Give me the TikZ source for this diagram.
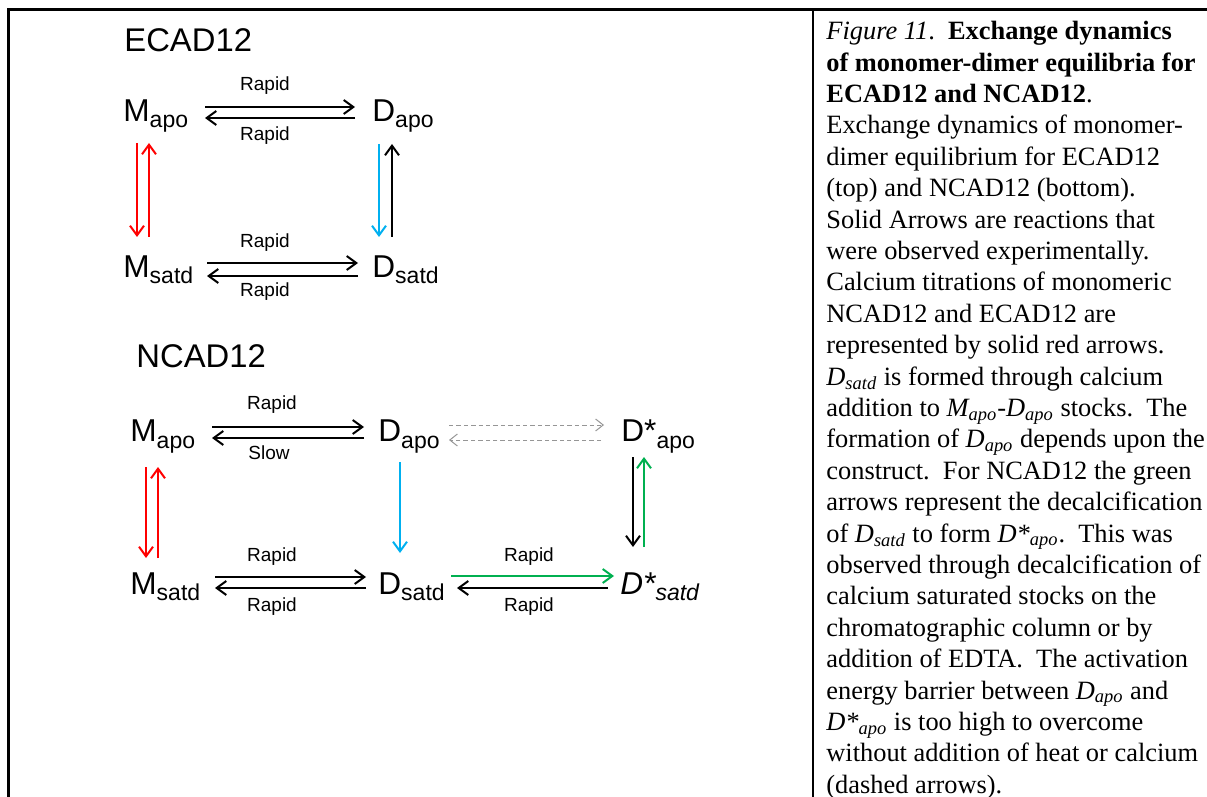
\documentclass[tikz,border=0pt]{standalone}
\usepackage{fontspec}
\setmainfont{Liberation Serif}
\newfontfamily\dsf{Liberation Sans}
\usetikzlibrary{arrows.meta}
\newcommand\mysub[1]{\raisebox{-3pt}{\fontsize{11.5}{13}\selectfont #1}}
\definecolor{cblue}{RGB}{0,176,240}
\definecolor{cgreen}{RGB}{0,176,80}
\definecolor{cred}{RGB}{255,0,0}
\definecolor{cgray}{RGB}{150,150,150}
\begin{document}
\begin{tikzpicture}[x=0.5pt,y=-0.5pt,
  lbl/.style={font=\dsf\fontsize{9.5}{11}\selectfont, inner sep=0pt, anchor=base},
  spc/.style={font=\dsf\fontsize{15.8}{18}\selectfont, inner sep=0pt, anchor=base west},
  ttl/.style={font=\dsf\fontsize{16.4}{19}\selectfont, inner sep=0pt, anchor=base west},
  arr/.style={line width=1pt, -{Straight Barb[length=4.8pt,width=7pt]}},
  darr/.style={line width=0.5pt, cgray, dash pattern=on 2.2pt off 1.5pt, -{Straight Barb[length=3.8pt,width=6pt]}},
  frame/.style={line width=1.5pt}]
\useasboundingbox (0,0) rectangle (1207,797);
% frame
\draw[frame] (8,797) -- (8,10) -- (1207,10);
\draw[line width=1.3pt] (813,10) -- (813,797);

% ---------- ECAD12 ----------
\node[ttl] (tE) at (124,52) {ECAD12};
\node[spc] (eMa) at (123,122) {M\mysub{apo}};
\node[spc] (eDa) at (372,122) {D\mysub{apo}};
\node[spc] (eMs) at (123,278) {M\mysub{satd}};
\node[spc] (eDs) at (372,278) {D\mysub{satd}};

\draw[arr] ([shift={(82,-15)}]eMa.base west) -- ([shift={(-17,-15)}]eDa.base west);
\draw[arr] ([shift={(-17,-4)}]eDa.base west) -- ([shift={(82,-4)}]eMa.base west);
\draw[arr] ([shift={(84,-15)}]eMs.base west) -- ([shift={(-14,-15)}]eDs.base west);
\draw[arr] ([shift={(-14,-2)}]eDs.base west) -- ([shift={(84,-2)}]eMs.base west);

\draw[arr,cred] ([shift={(14,21)}]eMa.base west) -- ([shift={(14,-41)}]eMs.base west);
\draw[arr,cred] ([shift={(26,-41)}]eMs.base west) -- ([shift={(26,21)}]eMa.base west);
\draw[arr,cblue] ([shift={(7,22)}]eDa.base west) -- ([shift={(7,-41)}]eDs.base west);
\draw[arr] ([shift={(20,-41)}]eDs.base west) -- ([shift={(20,22)}]eDa.base west);

\node[lbl] (l1) at (265,91) {Rapid};
\node[lbl] (l2) at (265,141) {Rapid};
\node[lbl] (l3) at (265,248) {Rapid};
\node[lbl] (l4) at (265,297) {Rapid};

% ---------- NCAD12 ----------
\node[ttl] (tN) at (136,368) {NCAD12};
\node[spc] (nMa) at (130,442) {M\mysub{apo}};
\node[spc] (nDa) at (378,442) {D\mysub{apo}};
\node[spc] (nSa) at (621,442) {D*\mysub{apo}};
\node[spc] (nMs) at (130,594) {M\mysub{satd}};
\node[spc] (nDs) at (378,594) {D\mysub{satd}};
\node[spc] (nSs) at (620,594) {\itshape D*\mysub{satd}};

\draw[arr] ([shift={(82,-15)}]nMa.base west) -- ([shift={(-14,-15)}]nDa.base west);
\draw[arr] ([shift={(-14,-4)}]nDa.base west) -- ([shift={(82,-4)}]nMa.base west);
\draw[darr] ([shift={(71,-17)}]nDa.base west) -- ([shift={(-17,-17)}]nSa.base west);
\draw[darr] ([shift={(-20,-2)}]nSa.base west) -- ([shift={(71,-2)}]nDa.base west);

\draw[arr] ([shift={(85,-17)}]nMs.base west) -- ([shift={(-12,-17)}]nDs.base west);
\draw[arr] ([shift={(-12,-6)}]nDs.base west) -- ([shift={(85,-6)}]nMs.base west);
\draw[arr,cgreen] ([shift={(73,-18)}]nDs.base west) -- ([shift={(-6,-18)}]nSs.base west);
\draw[arr] ([shift={(-12,-6)}]nSs.base west) -- ([shift={(79,-6)}]nDs.base west);

\draw[arr,cred] ([shift={(16,25)}]nMa.base west) -- ([shift={(16,-36)}]nMs.base west);
\draw[arr,cred] ([shift={(28,-36)}]nMs.base west) -- ([shift={(28,25)}]nMa.base west);
\draw[arr,cblue] ([shift={(22,20)}]nDa.base west) -- ([shift={(22,-41)}]nDs.base west);
\draw[arr] ([shift={(12,15)}]nSa.base west) -- ([shift={(13,-47)}]nSs.base west);
\draw[arr,cgreen] ([shift={(24,-47)}]nSs.base west) -- ([shift={(23,15)}]nSa.base west);

\node[lbl] (l5) at (272,409) {Rapid};
\node[lbl] (l6) at (269,459) {Slow};
\node[lbl] (l7) at (272,561) {Rapid};
\node[lbl] (l8) at (272,611) {Rapid};
\node[lbl] (l9) at (529,561) {Rapid};
\node[lbl] (l10) at (529,611) {Rapid};

% ---------- caption ----------
\node[anchor=north west, inner sep=0pt, align=left,
      font=\fontsize{13.2}{15.7}\selectfont] (cap) at (826,21) {%
\textit{Figure 11}.\ \ \textbf{Exchange dynamics}\\
\textbf{of monomer-dimer equilibria for}\\
\textbf{ECAD12 and NCAD12}.\\
Exchange dynamics of monomer-\\
dimer equilibrium for ECAD12\\
(top) and NCAD12 (bottom).\\
Solid Arrows are reactions that\\
were observed experimentally.\\
Calcium titrations of monomeric\\
NCAD12 and ECAD12 are\\
represented by solid red arrows.\\
\textit{D\textsubscript{satd}} is formed through calcium\\
addition to \textit{M\textsubscript{apo}}-\textit{D\textsubscript{apo}} stocks.\ \ The\\
formation of \textit{D\textsubscript{apo}} depends upon the\\
construct.\ \ For NCAD12 the green\\
arrows represent the decalcification\\
of \textit{D\textsubscript{satd}} to form \textit{D*\textsubscript{apo}}.\ \ This was\\
observed through decalcification of\\
calcium saturated stocks on the\\
chromatographic column or by\\
addition of EDTA.\ \ The activation\\
energy barrier between \textit{D\textsubscript{apo}} and\\
\textit{D*\textsubscript{apo}} is too high to overcome\\
without addition of heat or calcium\\
(dashed arrows).};
\end{tikzpicture}
\end{document}
